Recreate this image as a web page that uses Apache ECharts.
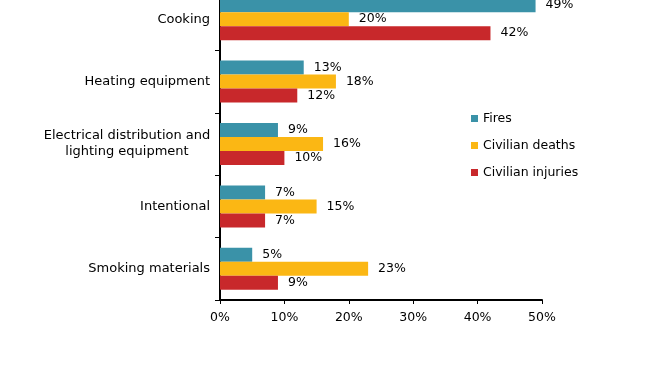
<!DOCTYPE html>
<html>
<head>
<meta charset="utf-8">
<script src="https://cdn.jsdelivr.net/npm/echarts@6/dist/echarts.min.js"></script>
<style>
  html, body { margin: 0; padding: 0; background: #fff; overflow: hidden; width: 668px; height: 376px; }
  /* top of the original chart is cut off, so shift the canvas up a bit */
  #chart { position: absolute; left: 0; top: -12px; width: 668px; height: 388px; }
</style>
</head>
<body>
<div id="chart"></div>
<script>
// categories top to bottom
var categories = ['Cooking', 'Heating equipment', 'Electrical distribution and\nlighting equipment', 'Intentional', 'Smoking materials'];
var fires = [49, 13, 9, 7, 5];
var deaths = [20, 18, 16, 15, 23];
var injuries = [42, 12, 10, 7, 9];
var xTicks = [0, 10, 20, 30, 40, 50];

var font = 'DejaVu Sans, sans-serif';
var chart = echarts.init(document.getElementById('chart'));

function bar(name, data, color) {
  return {
    name: name,
    type: 'bar',
    data: data.slice().reverse(),
    barWidth: 14,
    barGap: '0%',
    itemStyle: { color: color },
    label: {
      show: true,
      position: 'right',
      distance: 10,
      formatter: '{c}%',
      color: '#000',
      fontFamily: font,
      fontSize: 12.5
    }
  };
}

chart.setOption({
  animation: false,
  textStyle: { fontFamily: font },
  grid: { left: 220, right: 126, top: 0, bottom: 76, containLabel: false },
  legend: {
    orient: 'vertical',
    left: 466,
    top: 119,
    itemWidth: 7,
    itemHeight: 7,
    itemGap: 14,
    icon: 'rect',
    textStyle: { color: '#000', fontSize: 12.5, fontFamily: font },
    data: ['Fires', 'Civilian deaths', 'Civilian injuries']
  },
  xAxis: {
    type: 'value',
    min: xTicks[0],
    max: xTicks[xTicks.length - 1],
    interval: 10,
    splitLine: { show: false },
    axisLine: { show: true, lineStyle: { color: '#000', width: 2 } },
    axisTick: { show: true, length: 4, lineStyle: { color: '#000' } },
    axisLabel: { color: '#000', fontSize: 12.5, margin: 11, formatter: '{value}%' }
  },
  yAxis: {
    type: 'category',
    data: categories.slice().reverse(),
    axisLine: { show: true, lineStyle: { color: '#000', width: 2 } },
    axisTick: { show: true, length: 5, lineStyle: { color: '#000' } },
    axisLabel: {
      color: '#000',
      fontSize: 13,
      margin: 10,
      formatter: function (v) {
        if (v.indexOf('\n') >= 0) {
          return v.split('\n').map(function (s) { return '{c|' + s + '}'; }).join('\n');
        }
        return v;
      },
      rich: {
        c: { width: 166, align: 'center', fontSize: 13, color: '#000', lineHeight: 16 }
      }
    }
  },
  series: [
    bar('Fires', fires, '#3a92a8'),
    bar('Civilian deaths', deaths, '#fbb714'),
    bar('Civilian injuries', injuries, '#c8282b')
  ]
});
</script>
</body>
</html>
